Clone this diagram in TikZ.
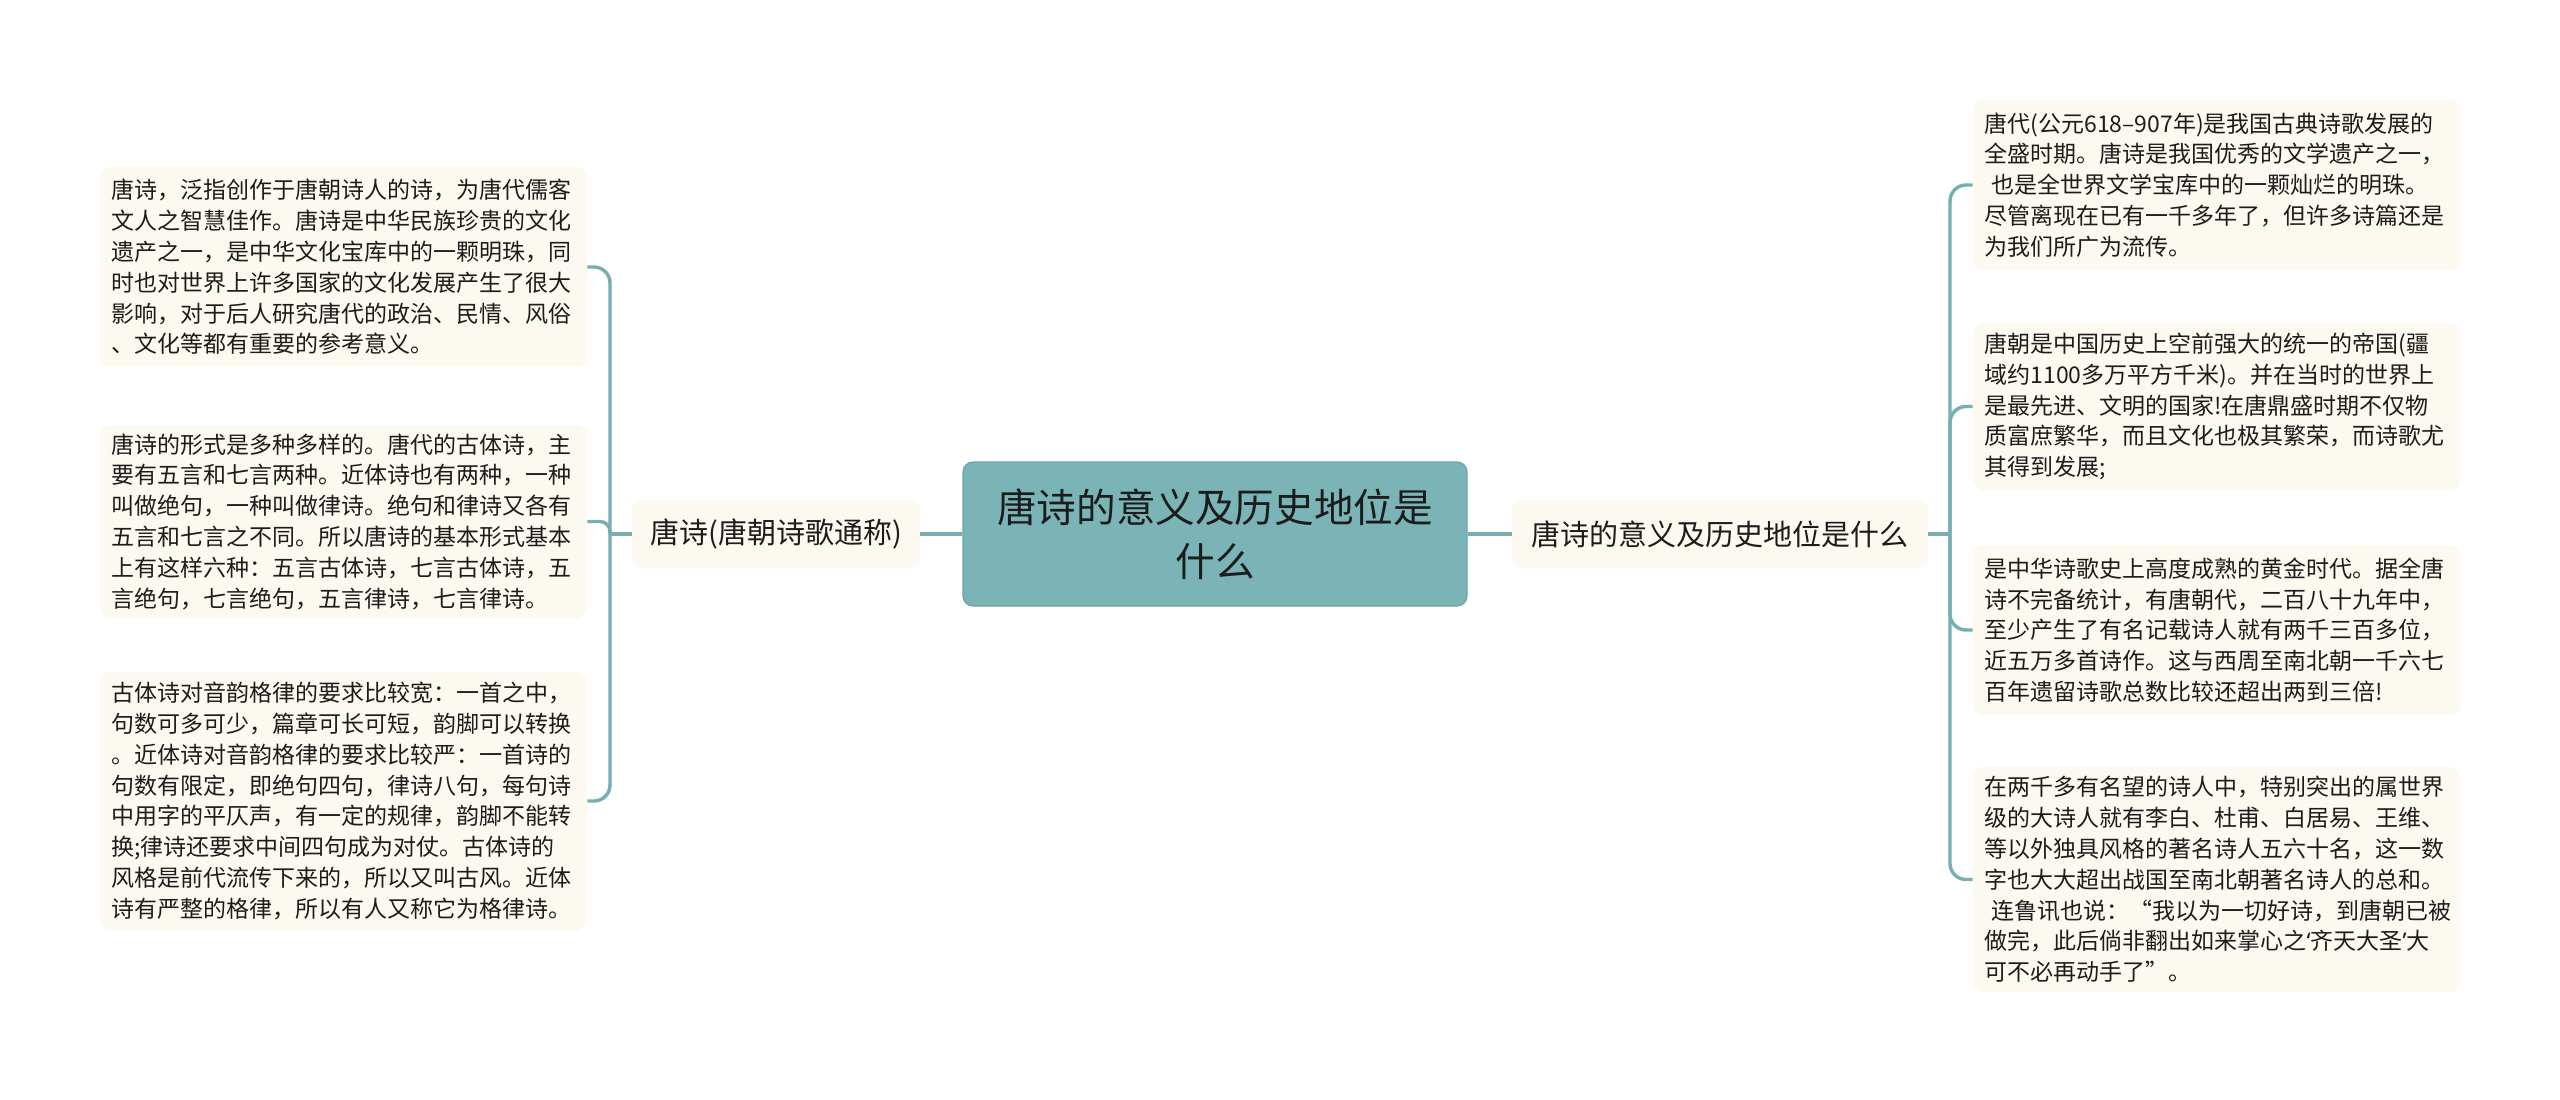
\documentclass[tikz,border=0pt]{standalone}
\usepackage{fontspec}
\setmainfont{Noto Sans CJK SC}
\newfontfamily\latinq{Noto Sans}
\definecolor{conncol}{RGB}{118,174,178}
\definecolor{centerfill}{RGB}{122,180,182}
\definecolor{centerdraw}{RGB}{108,164,167}
\definecolor{leaffill}{RGB}{252,250,240}
\definecolor{textcol}{RGB}{28,28,28}
\tikzset{
  leafbox/.style={fill=leaffill, draw=none, rounded corners=5pt, text width=232pt,
    align=left, inner xsep=5.75pt, inner ysep=0pt, text=textcol,
    font=\fontsize{11.5pt}{15.4pt}\selectfont},
  branchbox/.style={fill=leaffill, draw=none, rounded corners=5pt, minimum height=34pt,
    inner ysep=0pt, text=textcol, font=\fontsize{14.5pt}{18pt}\selectfont},
  centerbox/.style={fill=centerfill, draw=centerdraw, line width=0.6pt, rounded corners=5pt,
    minimum width=252pt, minimum height=72pt, align=center, text=textcol,
    font=\fontsize{19.8pt}{27pt}\selectfont},
  conn/.style={draw=conncol, line width=1.7pt, rounded corners=8pt},
}
\begin{document}
\begin{tikzpicture}[x=0.5pt,y=-0.5pt]
\useasboundingbox[fill=white] (0,0) rectangle (2560,1099);

\node[centerbox] (c) at (1215,534) {唐诗的意义及历史地位是\\什么};

\node[branchbox, minimum width=144pt] (lb) at (776,534) {唐诗(唐朝诗歌通称)};
\node[branchbox, minimum width=208pt] (rb) at (1720,534) {唐诗的意义及历史地位是什么};

\node[leafbox, minimum height=100pt] (l1) at (343.5,267) {唐诗，泛指创作于唐朝诗人的诗，为唐代儒客\\
文人之智慧佳作。唐诗是中华民族珍贵的文化\\
遗产之一，是中华文化宝库中的一颗明珠，同\\
时也对世界上许多国家的文化发展产生了很大\\
影响，对于后人研究唐代的政治、民情、风俗\\
、文化等都有重要的参考意义。};

\node[leafbox, minimum height=96.5pt] (l2) at (343.5,521.5) {唐诗的形式是多种多样的。唐代的古体诗，主\\
要有五言和七言两种。近体诗也有两种，一种\\
叫做绝句，一种叫做律诗。绝句和律诗又各有\\
五言和七言之不同。所以唐诗的基本形式基本\\
上有这样六种：五言古体诗，七言古体诗，五\\
言绝句，七言绝句，五言律诗，七言律诗。};

\node[leafbox, minimum height=129pt] (l3) at (343.5,801) {古体诗对音韵格律的要求比较宽：一首之中，\\
句数可多可少，篇章可长可短，韵脚可以转换\\
。近体诗对音韵格律的要求比较严：一首诗的\\
句数有限定，即绝句四句，律诗八句，每句诗\\
中用字的平仄声，有一定的规律，韵脚不能转\\
换;律诗还要求中间四句成为对仗。古体诗的\\
风格是前代流传下来的，所以又叫古风。近体\\
诗有严整的格律，所以有人又称它为格律诗。};

\node[leafbox, minimum height=85pt] (r1) at (2216.5,185) {唐代(公元618–907年)是我国古典诗歌发展的\\
全盛时期。唐诗是我国优秀的文学遗产之一，\\
\hspace*{0.3em}也是全世界文学宝库中的一颗灿烂的明珠。\\
尽管离现在已有一千多年了，但许多诗篇还是\\
为我们所广为流传。};

\node[leafbox, minimum height=83.5pt] (r2) at (2216.5,406.5) {唐朝是中国历史上空前强大的统一的帝国(疆\\
域约1100多万平方千米)。并在当时的世界上\\
是最先进、文明的国家!在唐鼎盛时期不仅物\\
质富庶繁华，而且文化也极其繁荣，而诗歌尤\\
其得到发展;};

\node[leafbox, minimum height=85pt] (r3) at (2216.5,630) {是中华诗歌史上高度成熟的黄金时代。据全唐\\
诗不完备统计，有唐朝代，二百八十九年中，\\
至少产生了有名记载诗人就有两千三百多位，\\
近五万多首诗作。这与西周至南北朝一千六七\\
百年遗留诗歌总数比较还超出两到三倍!};

\node[leafbox, minimum height=112.5pt] (r4) at (2216.5,879.5) {在两千多有名望的诗人中，特别突出的属世界\\
级的大诗人就有李白、杜甫、白居易、王维、\\
等以外独具风格的著名诗人五六十名，这一数\\
字也大大超出战国至南北朝著名诗人的总和。\\
\hspace*{0.3em}连鲁讯也说：“我以为一切好诗，到唐朝已被\\
做完，此后倘非翻出如来掌心之{\latinq ‘}齐天大圣{\latinq ’}大\\
可不必再动手了”。};

\coordinate (jl) at (610,534);
\coordinate (jr) at (1950,534);

\draw[conn] (c.west) -- (lb.east);
\draw[conn] (c.east) -- (rb.west);
\draw[conn] (lb.west) -- (jl);
\draw[conn] (rb.east) -- (jr);

\draw[conn] (jl) |- (l1.east);
\draw[conn, rounded corners=5pt] (jl) |- (l2.east);
\draw[conn] (jl) |- (l3.east);

\draw[conn] (jr) |- (r1.west);
\draw[conn] (jr) |- (r2.west);
\draw[conn] (jr) |- (r3.west);
\draw[conn] (jr) |- (r4.west);
\end{tikzpicture}
\end{document}
